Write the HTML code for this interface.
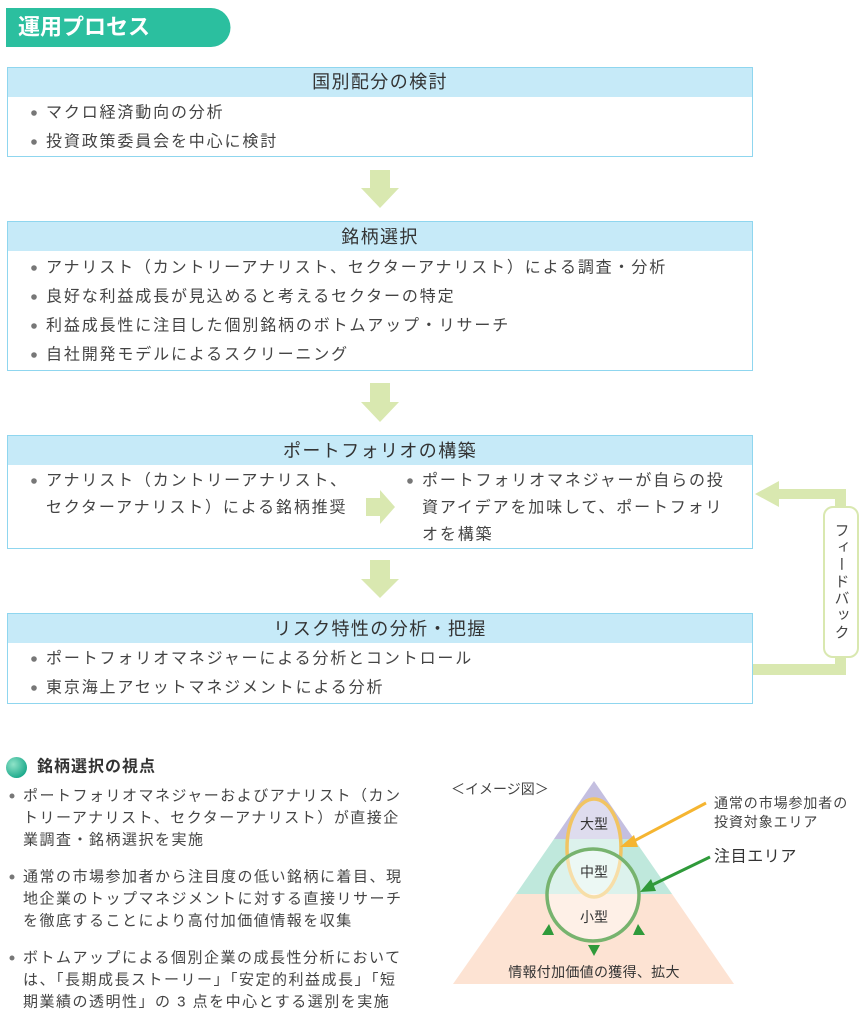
<!DOCTYPE html>
<html><head><meta charset="utf-8"><style>
html,body{margin:0;padding:0;background:#fff;}
svg{display:block;}
text{font-family:"Liberation Sans","Noto Sans CJK JP",sans-serif;fill:#444;dominant-baseline:central;}
.h{font-size:18px;fill:#333;text-anchor:middle;letter-spacing:1.4px;}
.b{font-size:16px;letter-spacing:1.85px;}
.s{font-size:15px;letter-spacing:1.5px;}
</style></head><body>
<svg width="866" height="1024" viewBox="0 0 866 1024" xmlns="http://www.w3.org/2000/svg">
<defs>
<radialGradient id="g" cx="35%" cy="35%" r="70%"><stop offset="0" stop-color="#8fe3c8"/><stop offset="1" stop-color="#1aa88a"/></radialGradient>
</defs>
<path d="M6 8 H211 A19.5 19.5 0 0 1 211 47 H6 Z" fill="#2bbf9f"/>
<text x="18" y="27" style="font-size:22px;fill:#fff;font-weight:bold">運用プロセス</text>

<rect x="7.5" y="67.5" width="745" height="89" fill="#fff" stroke="#8fd6ef"/>
<rect x="8" y="68" width="744" height="29" fill="#c6eaf8"/>
<text class="h" x="380" y="82">国別配分の検討</text>
<circle cx="34" cy="113" r="2.8" fill="#777"/><text class="b" x="46" y="113">マクロ経済動向の分析</text>
<circle cx="34" cy="142" r="2.8" fill="#777"/><text class="b" x="46" y="142">投資政策委員会を中心に検討</text>

<polygon points="370,170 390,170 390,188 399,188 380,208 361,188 370,188" fill="#d9e8b0"/>

<rect x="7.5" y="221.5" width="745" height="149" fill="#fff" stroke="#8fd6ef"/>
<rect x="8" y="222" width="744" height="29" fill="#c6eaf8"/>
<text class="h" x="380" y="237">銘柄選択</text>
<circle cx="34" cy="268" r="2.8" fill="#777"/><text class="b" x="46" y="268">アナリスト（カントリーアナリスト、セクターアナリスト）による調査・分析</text>
<circle cx="34" cy="297" r="2.8" fill="#777"/><text class="b" x="46" y="297">良好な利益成長が見込めると考えるセクターの特定</text>
<circle cx="34" cy="326" r="2.8" fill="#777"/><text class="b" x="46" y="326">利益成長性に注目した個別銘柄のボトムアップ・リサーチ</text>
<circle cx="34" cy="355" r="2.8" fill="#777"/><text class="b" x="46" y="355">自社開発モデルによるスクリーニング</text>

<polygon points="370,383 390,383 390,402 399,402 380,422 361,402 370,402" fill="#d9e8b0"/>

<rect x="7.5" y="435.5" width="745" height="113" fill="#fff" stroke="#8fd6ef"/>
<rect x="8" y="436" width="744" height="29" fill="#c6eaf8"/>
<text class="h" x="380" y="451">ポートフォリオの構築</text>
<circle cx="34" cy="481" r="2.8" fill="#777"/><text class="b" x="46" y="481">アナリスト（カントリーアナリスト、</text>
<text class="b" x="46" y="508">セクターアナリスト）による銘柄推奨</text>
<polygon points="366,498 380,498 380,490 395,507 380,524 380,516 366,516" fill="#d9e8b0"/>
<circle cx="410" cy="481" r="2.8" fill="#777"/><text class="b" x="422" y="481">ポートフォリオマネジャーが自らの投</text>
<text class="b" x="422" y="508">資アイデアを加味して、ポートフォリ</text>
<text class="b" x="422" y="535">オを構築</text>

<polygon points="370,560 390,560 390,579 399,579 380,598 361,579 370,579" fill="#d9e8b0"/>

<rect x="7.5" y="613.5" width="745" height="90" fill="#fff" stroke="#8fd6ef"/>
<rect x="8" y="614" width="744" height="29" fill="#c6eaf8"/>
<text class="h" x="380" y="629">リスク特性の分析・把握</text>
<circle cx="34" cy="659" r="2.8" fill="#777"/><text class="b" x="46" y="659">ポートフォリオマネジャーによる分析とコントロール</text>
<circle cx="34" cy="688" r="2.8" fill="#777"/><text class="b" x="46" y="688">東京海上アセットマネジメントによる分析</text>

<polygon points="755,494 779,481 779,489 846,489 846,675 753,675 753,664 835,664 835,499 779,499 779,507" fill="#d9e8b0"/>
<rect x="824" y="507" width="34" height="150" rx="9" fill="#fff" stroke="#d9e8b0" stroke-width="2"/>
<text x="841" y="582" style="font-size:15px;writing-mode:vertical-rl;text-anchor:middle;letter-spacing:2px">フィードバック</text>

<circle cx="16.5" cy="767.5" r="10.5" fill="url(#g)"/>
<text x="37" y="767" style="font-size:16px;font-weight:bold;fill:#333;letter-spacing:1px">銘柄選択の視点</text>
<circle cx="12" cy="796" r="2.5" fill="#777"/>
<text class="s" x="23" y="796">ポートフォリオマネジャーおよびアナリスト（カン</text>
<text class="s" x="23" y="818">トリーアナリスト、セクターアナリスト）が直接企</text>
<text class="s" x="23" y="840">業調査・銘柄選択を実施</text>
<circle cx="12" cy="877" r="2.5" fill="#777"/>
<text class="s" x="23" y="877">通常の市場参加者から注目度の低い銘柄に着目、現</text>
<text class="s" x="23" y="899">地企業のトップマネジメントに対する直接リサーチ</text>
<text class="s" x="23" y="921">を徹底することにより高付加価値情報を収集</text>
<circle cx="12" cy="958" r="2.5" fill="#777"/>
<text class="s" x="23" y="958">ボトムアップによる個別企業の成長性分析において</text>
<text class="s" x="23" y="980">は、「長期成長ストーリー」「安定的利益成長」「短</text>
<text class="s" x="23" y="1002">期業績の透明性」の 3 点を中心とする選別を実施</text>

<text x="451" y="789" style="font-size:14px">＜イメージ図＞</text>
<polygon points="594,781 634,839 554,839" fill="#c4bfe0"/>
<polygon points="554,839 634,839 672,894 516,894" fill="#bfe8dc"/>
<polygon points="516,894 672,894 734,984 453,984" fill="#fde3d3"/>
<ellipse cx="594" cy="848" rx="27" ry="49" fill="#fff" fill-opacity="0.45" stroke="#f1c462" stroke-width="3.5"/>
<circle cx="593" cy="895" r="46" fill="#fff" fill-opacity="0.45" stroke="#77b36e" stroke-width="3.5"/>
<text x="594" y="824" style="font-size:14px;text-anchor:middle;fill:#333">大型</text>
<text x="594" y="872" style="font-size:14px;text-anchor:middle;fill:#333">中型</text>
<text x="594" y="917" style="font-size:14px;text-anchor:middle;fill:#333">小型</text>
<polygon points="542,935 554,935 549,924" fill="#2f9a3a"/>
<polygon points="633,935 645,935 638,924" fill="#2f9a3a"/>
<polygon points="588,945 600,945 594,956" fill="#2f9a3a"/>
<text x="594" y="972" style="font-size:14px;text-anchor:middle;fill:#333;letter-spacing:0.3px">情報付加価値の獲得、拡大</text>
<line x1="706" y1="803" x2="632" y2="842" stroke="#f5b531" stroke-width="3"/>
<polygon points="620,847 634,835 638,847" fill="#f5b531"/>
<line x1="710" y1="857" x2="650" y2="886" stroke="#2f9a3a" stroke-width="3"/>
<polygon points="640,892 651,879 656,891" fill="#2f9a3a"/>
<text x="714" y="803" style="font-size:14px;letter-spacing:0.9px">通常の市場参加者の</text>
<text x="714" y="822" style="font-size:14px;letter-spacing:0.9px">投資対象エリア</text>
<text x="714" y="857" style="font-size:16px;fill:#333;letter-spacing:0.6px">注目エリア</text>
</svg>
</body></html>
